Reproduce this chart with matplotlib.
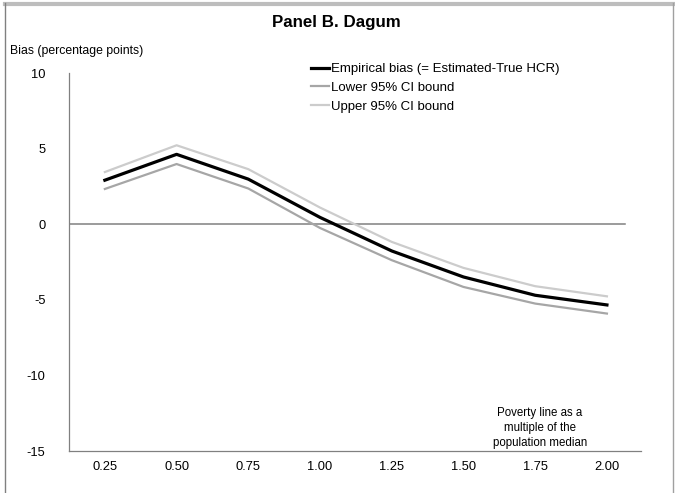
import matplotlib
matplotlib.use('Agg')
import matplotlib.pyplot as plt
from matplotlib.lines import Line2D
import numpy as np

plt.rcParams['font.family'] = ['Liberation Sans', 'DejaVu Sans']
plt.rcParams['axes.unicode_minus'] = False

# poverty line as multiple of median
x_labels = ['0.25', '0.50', '0.75', '1.00', '1.25', '1.50', '1.75', '2.00']
bias = [2.91, 4.62, 2.98, 0.45, -1.77, -3.49, -4.70, -5.34]
lower = [2.33, 3.98, 2.36, -0.25, -2.38, -4.15, -5.25, -5.91]
upper = [3.45, 5.22, 3.64, 1.10, -1.17, -2.89, -4.10, -4.77]
y_ticks = [-15, -10, -5, 0, 5, 10]

W, H = 675, 493
fig = plt.figure(figsize=(W / 100, H / 100), dpi=100)

# plot area in pixels: x 69..641, y 73..451
ax = fig.add_axes([69 / W, 1 - 451 / H, (641 - 69) / W, (451 - 73) / H])

xpos = np.arange(len(x_labels))
ax.plot(xpos, lower, color='#a6a6a6', lw=1.6, zorder=3)
ax.plot(xpos, upper, color='#cccccc', lw=1.6, zorder=3)
ax.plot(xpos, bias, color='black', lw=2.3, zorder=4)

ax.set_xlim(-0.5, 7.475)
ax.set_ylim(-15, 10)
# zero line stops a bit short of the right end
ax.axhline(0, xmin=0, xmax=(7.25 + 0.5) / 7.975, color='#808080', lw=1.1, zorder=2)

ax.set_xticks(xpos)
ax.set_xticklabels(x_labels)
ax.set_yticks(y_ticks)
ax.tick_params(axis='both', length=0, labelsize=9.3, colors='black')
ax.tick_params(axis='y', pad=17)
ax.tick_params(axis='x', pad=7)
for side in ['top', 'right']:
    ax.spines[side].set_visible(False)
for side in ['left', 'bottom']:
    ax.spines[side].set_color('#808080')
    ax.spines[side].set_linewidth(0.9)

handles = [Line2D([], [], color='black', lw=2.3),
           Line2D([], [], color='#a6a6a6', lw=1.6),
           Line2D([], [], color='#cccccc', lw=1.6)]
names = ['Empirical bias (= Estimated-True HCR)', 'Lower 95% CI bound', 'Upper 95% CI bound']
fig.legend(handles, names, loc='upper left', bbox_to_anchor=(311 / W, 1 - 63 / H),
           frameon=False, fontsize=9.5, handlelength=1.4, handletextpad=0.12,
           labelspacing=0.5, borderpad=0, borderaxespad=0)

fig.text(336 / W, 1 - 22 / H, 'Panel B. Dagum', ha='center', va='center',
         fontsize=12.2, fontweight='bold')
fig.text(10 / W, 1 - 51 / H, 'Bias (percentage points)', ha='left', va='center', fontsize=8.8)
fig.text(540 / W, 1 - 428 / H, 'Poverty line as a\nmultiple of the\npopulation median',
         ha='center', va='center', fontsize=8.3, linespacing=1.3)

# outer frame of the original screenshot
fig.add_artist(Line2D([5 / W, 1], [1 - 4 / H, 1 - 4 / H], color='#bdbdbd', lw=3,
                      transform=fig.transFigure))
fig.add_artist(Line2D([5.5 / W, 5.5 / W], [0, 1 - 3 / H], color='#808080', lw=1,
                      transform=fig.transFigure))
fig.add_artist(Line2D([672.5 / W, 672.5 / W], [0, 1 - 3 / H], color='#a0a0a0', lw=1,
                      transform=fig.transFigure))

fig.savefig('out.png', dpi=100)
